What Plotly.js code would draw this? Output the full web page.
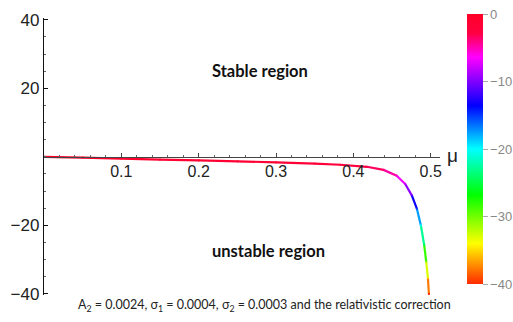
<!DOCTYPE html>
<html><head><meta charset="utf-8">
<script src="https://cdn.plot.ly/plotly-3.0.1.min.js"></script>
<style>html,body{margin:0;padding:0;background:#fff}#chart{width:513px;height:322px}</style>
</head><body><div id="chart"></div>
<script>
// values
const mu = [0, 0.05, 0.1, 0.15, 0.2, 0.25, 0.3, 0.35, 0.383, 0.4175, 0.439, 0.456, 0.467, 0.4757, 0.4822, 0.4873, 0.4916, 0.4942, 0.4964, 0.4977];
const growth = [0, -0.25, -0.5, -0.8, -1.05, -1.3, -1.6, -1.95, -2.3, -2.9, -3.8, -5.5, -7.9, -11.3, -15.2, -20, -25.8, -30.6, -35.4, -40];
const xTickVals = [0.1, 0.2, 0.3, 0.4, 0.5];
const yTickVals = [-40, -20, 20, 40];
const cbTickVals = [0, -10, -20, -30, -40];

const cscale = [
  [0.0, '#ff2a00'], [0.07, '#ff8c00'], [0.15, '#ffff00'], [0.33, '#00ff00'],
  [0.5, '#00ffff'], [0.66, '#0000ff'], [0.84, '#ff00ff'], [0.93, '#ff0040'], [1.0, '#ff0028']
];
const cmin = -40, cmax = 0;
function hex2rgb(h){return [parseInt(h.substr(1,2),16),parseInt(h.substr(3,2),16),parseInt(h.substr(5,2),16)];}
function colorAt(v){
  let t = (v - cmin)/(cmax - cmin); t = Math.max(0, Math.min(1, t));
  for (let i=0;i<cscale.length-1;i++){
    const [t0,c0]=cscale[i],[t1,c1]=cscale[i+1];
    if (t>=t0 && t<=t1){
      const f=(t-t0)/(t1-t0), a=hex2rgb(c0), b=hex2rgb(c1);
      return 'rgb('+a.map((x,k)=>Math.round(x+(b[k]-x)*f)).join(',')+')';
    }
  }
  return cscale[cscale.length-1][1];
}
const minus = s => String(s).replace('-', '\u2212');

const traces = [];
for (let i=0;i<mu.length-1;i++){
  traces.push({x:[mu[i],mu[i+1]], y:[growth[i],growth[i+1]], mode:'lines', type:'scatter',
    line:{color:colorAt((growth[i]+growth[i+1])/2), width:2.2}, hoverinfo:'skip', showlegend:false});
}
traces.push({x:mu, y:growth, mode:'markers', type:'scatter', showlegend:false,
  marker:{size:2.2, color:growth, colorscale:cscale, cmin:cmin, cmax:cmax, showscale:true,
    colorbar:{x:1.068, xanchor:'left', xref:'paper', y:0.527, yanchor:'middle', len:270, lenmode:'pixels',
      thickness:16, thicknessmode:'pixels', ypad:0, xpad:0, outlinewidth:0,
      tickvals:cbTickVals, ticktext:cbTickVals.map(minus), ticks:'outside', ticklen:5, tickcolor:'#aaa',
      tickfont:{family:'Liberation Sans, Arial, sans-serif', size:13, color:'#888'}}}});

const yr = [-40.3, 40.5];
const pw = 513-44-73, ph = 322-18-27;
const axisPos = (0-yr[0])/(yr[1]-yr[0]);
const layout = {
  width:513, height:322, margin:{l:44, r:73, t:18, b:27, autoexpand:false},
  paper_bgcolor:'#fff', plot_bgcolor:'#fff', showlegend:false,
  xaxis:{range:[0,0.512], anchor:'free', position:axisPos, showgrid:false, zeroline:false,
    showline:true, linecolor:'#444', linewidth:1.2, ticks:'inside', ticklen:4, tickcolor:'#444',
    tickvals:xTickVals, ticktext:xTickVals.map(String),
    minor:{dtick:0.02, tick0:0, ticks:'inside', ticklen:2, tickcolor:'#666'},
    tickfont:{family:'Liberation Sans, Arial, sans-serif', size:16, color:'#222'}},
  yaxis:{range:yr, showgrid:false, zeroline:false, showline:true, linecolor:'#111', linewidth:1.2,
    ticks:'inside', ticklen:4, tickcolor:'#111', tickvals:yTickVals, ticktext:yTickVals.map(minus),
    minor:{dtick:5, tick0:0, ticks:'inside', ticklen:2, tickcolor:'#666'},
    tickfont:{family:'Liberation Sans, Arial, sans-serif', size:17, color:'#222'}},
  annotations:[
    {text:'<b>Stable region</b>', x:0.279, y:25, xref:'x', yref:'y', showarrow:false,
      font:{family:'Lato, sans-serif', size:16.5, color:'#111'}},
    {text:'<b>unstable region</b>', x:0.290, y:-27.5, xref:'x', yref:'y', showarrow:false,
      font:{family:'Lato, sans-serif', size:16.5, color:'#111'}},
    {text:'μ', x:(452-44)/pw, y:axisPos + 1.5/ph, xref:'paper', yref:'paper', showarrow:false,
      xanchor:'center', yanchor:'middle',
      font:{family:'Liberation Sans, Arial, sans-serif', size:19, color:'#222'}},
    {text:'A<sub>2</sub> = 0.0024, σ<sub>1</sub> = 0.0004, σ<sub>2</sub> = 0.0003 and the relativistic correction',
      x:(264-44)/pw, y:(322-27-305)/ph, xref:'paper', yref:'paper', showarrow:false, yanchor:'middle',
      font:{family:'Lato, sans-serif', size:12.5, color:'#222'}}
  ]
};
Plotly.newPlot('chart', traces, layout, {displayModeBar:false, staticPlot:true});
</script></body></html>
